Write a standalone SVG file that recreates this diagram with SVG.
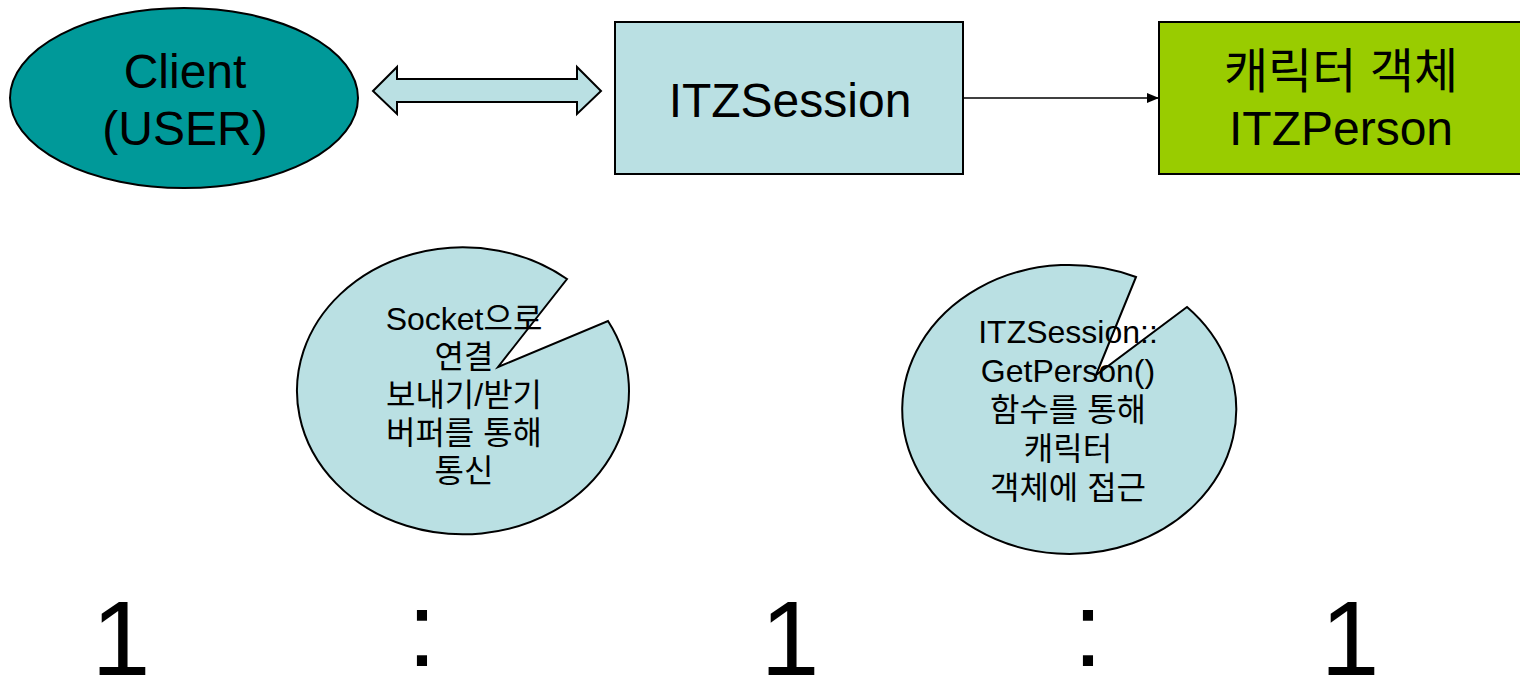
<svg xmlns="http://www.w3.org/2000/svg" width="1520" height="681" viewBox="0 0 1520 681">
<style>
text { font-family: "Liberation Sans", "Noto Sans CJK KR", sans-serif; fill: #000; text-anchor: middle; }
.big { font-size: 48px; }
.small { font-size: 32px; }
.ratio { font-size: 106px; }
.shape { stroke: #000; stroke-width: 2; }
.cyan { fill: #BAE0E3; }
</style>
<defs>
<marker id="arrow" markerWidth="12" markerHeight="10" refX="12" refY="5" orient="auto" markerUnits="userSpaceOnUse">
<path d="M0,0 L12,5 L0,10 Z" fill="#000"/>
</marker>
</defs>
<rect width="1520" height="681" fill="#fff"/>
<g id="connectors">
<polygon class="shape cyan" points="373,91 397,67 397,79 577,79 577,67 601,91 577,114 577,102 397,102 397,114"/>
<line x1="963" y1="98" x2="1159" y2="98" stroke="#000" stroke-width="1.5" marker-end="url(#arrow)"/>
</g>
<g id="client">
<ellipse class="shape" cx="184" cy="98" rx="174" ry="90" fill="#009999"/>
<text class="big" x="185" y="88">Client</text>
<text class="big" x="185" y="145">(USER)</text>
</g>
<g id="session">
<rect class="shape cyan" x="615" y="22" width="348" height="152"/>
<text class="big" x="790" y="117">ITZSession</text>
</g>
<g id="person">
<rect class="shape" x="1159" y="22" width="370" height="152" fill="#99CC00"/>
<text class="big" x="1341" y="88">캐릭터 객체</text>
<text class="big" x="1341" y="145">ITZPerson</text>
</g>
<g id="pie-socket">
<path class="shape cyan" d="M498,367 L567,279 A166,143.5 0 1 0 608,321 Z"/>
<text class="small" x="464" y="330">Socket으로</text>
<text class="small" x="464" y="368">연결</text>
<text class="small" x="464" y="406">보내기/받기</text>
<text class="small" x="464" y="444">버퍼를 통해</text>
<text class="small" x="464" y="482">통신</text>
</g>
<g id="pie-getperson">
<path class="shape cyan" d="M1096,375 L1136,277 A167,144.5 0 1 0 1187,307 Z"/>
<text class="small" x="1068" y="343">ITZSession::</text>
<text class="small" x="1068" y="382">GetPerson()</text>
<text class="small" x="1068" y="421">함수를 통해</text>
<text class="small" x="1068" y="460">캐릭터</text>
<text class="small" x="1068" y="499">객체에 접근</text>
</g>
<g id="ratio">
<text class="ratio" x="121" y="675">1</text>
<text class="ratio" x="422" y="666">:</text>
<text class="ratio" x="790" y="675">1</text>
<text class="ratio" x="1088" y="666">:</text>
<text class="ratio" x="1350" y="675">1</text>
</g>
</svg>
